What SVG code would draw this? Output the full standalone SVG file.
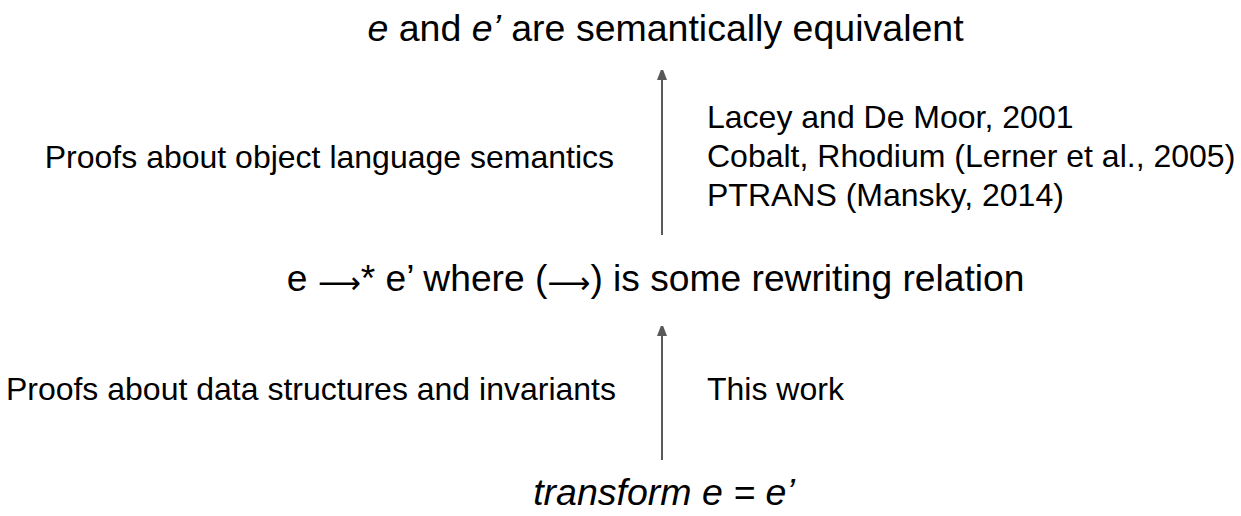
<svg xmlns="http://www.w3.org/2000/svg" width="1241" height="516" viewBox="0 0 1241 516">
<style>
text{font-family:"Liberation Sans",Arial,sans-serif;fill:#000}
.big{font-size:37.5px}
.mid{font-size:37.2px}
.lbl{font-size:32px}
.it{font-style:italic}
.arr{font-family:"DejaVu Sans",sans-serif;font-size:30px}
.conn{stroke:#595959;stroke-width:2;fill:none}
</style>
<defs>
<marker id="ah" markerWidth="10" markerHeight="10" refX="0" refY="5" orient="auto" markerUnits="userSpaceOnUse" viewBox="0 0 10 10">
<path d="M0,0 L13,5 L0,10 Z" fill="#595959"/>
</marker>
</defs>
<rect width="1241" height="516" fill="#fff"/>
<g id="top"><text class="big" x="665.5" y="41" text-anchor="middle"><tspan class="it">e</tspan> and <tspan class="it">e’</tspan> are semantically equivalent</text></g>
<g id="middle"><text class="mid" x="655.5" y="291" text-anchor="middle">e <tspan class="arr" dy="2">⟶</tspan><tspan dy="-2">* e’ where (</tspan><tspan class="arr" dy="2">⟶</tspan><tspan dy="-2">) is some rewriting relation</tspan></text></g>
<g id="bottom"><text class="big it" x="664" y="505" text-anchor="middle">transform e = e’</text></g>
<g id="label-upper-left"><text class="lbl" x="614" y="168" text-anchor="end">Proofs about object language semantics</text></g>
<g id="label-upper-right"><text class="lbl" x="707" y="128">Lacey and De Moor, 2001</text><text class="lbl" x="707" y="167">Cobalt, Rhodium (Lerner et al., 2005)</text><text class="lbl" x="707" y="206">PTRANS (Mansky, 2014)</text></g>
<g id="label-lower-left"><text class="lbl" x="616" y="400" text-anchor="end">Proofs about data structures and invariants</text></g>
<g id="label-lower-right"><text class="lbl" x="707" y="400">This work</text></g>
<g id="connectors">
<path class="conn" d="M662,235 V80" marker-end="url(#ah)"/>
<path class="conn" d="M662,460 V336" marker-end="url(#ah)"/>
</g>
</svg>
